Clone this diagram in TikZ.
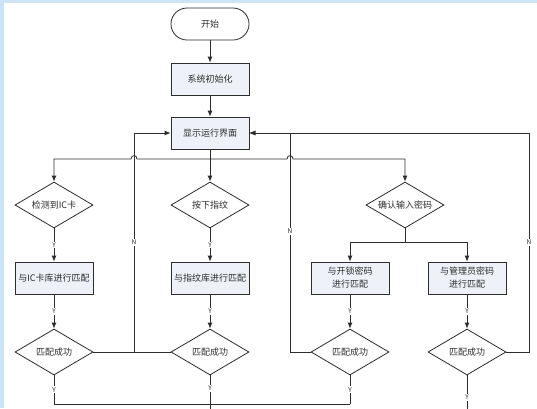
\documentclass[tikz,border=0pt]{standalone}
\usepackage{fontspec}
\setmainfont{Noto Sans CJK SC}
\usetikzlibrary{shapes.geometric,arrows.meta}
\definecolor{linecol}{RGB}{45,45,45}
\definecolor{boxfill}{RGB}{238,241,247}
\definecolor{edgeblue}{RGB}{205,228,246}
\tikzset{>={Latex[length=6pt,width=5pt]}}
\tikzset{
  box/.style={draw=linecol,fill=boxfill,minimum width=78pt,minimum height=32pt,
              inner sep=1pt,align=center,font=\fontsize{9}{13}\selectfont},
  term/.style={box,fill=white,rounded corners=16pt},
  choice/.style={diamond,aspect=1.7,draw=linecol,fill=white,minimum width=78pt,
                 minimum height=46pt,inner sep=0pt,font=\fontsize{9}{11}\selectfont},
  yn/.style={fill=white,inner sep=1pt,font=\fontsize{6.5}{7}\selectfont}
}

\begin{document}
\begin{tikzpicture}[x=1pt,y=-1pt,line width=0.8pt,color=linecol]
  % background
  \fill[white] (0,0) rectangle (537,408);
  \fill[edgeblue] (0,0) rectangle (537,2.5);
  \fill[edgeblue] (0,0) rectangle (4,408);
  \useasboundingbox (0,0) rectangle (537,408);
  % nodes
  \node[term] (start) at (210,24) {开始};
  \node[box] (init) at (210,79) {系统初始化};
  \node[box] (disp) at (210,133) {显示运行界面};
  \node[choice] (ic) at (54,205) {检测到IC卡};
  \node[choice] (fp) at (210,205) {按下指纹};
  \node[choice] (pw) at (405,205) {确认输入密码};
  \node[box] (icm) at (54,278) {与IC卡库进行匹配};
  \node[box] (fpm) at (210,278) {与指纹库进行匹配};
  \node[box] (pwm) at (350,278) {与开锁密码\\进行匹配};
  \node[box] (adm) at (467,278) {与管理员密码\\进行匹配};
  \node[choice] (icok) at (54,352) {匹配成功};
  \node[choice] (fpok) at (210,352) {匹配成功};
  \node[choice] (pwok) at (350,352) {匹配成功};
  \node[choice] (adok) at (467,352) {匹配成功};
  % helper points
  \coordinate (fork) at (210,159);
  \coordinate (pwfork) at (405,242);
  \coordinate (nleft) at (134,133);
  \coordinate (nmid) at (290,133);
  \coordinate (nright) at (529,133);
  \coordinate (join) at (210,404);
  \coordinate (fpend) at (210,412);
  \coordinate (adend) at (467,412);
  % main line
  \draw[->] (start) -- (init);
  \draw[->] (init) -- (disp);
  \draw (disp) -- (fork);
  \draw[->] (fork) -- (137,159) .. controls (137,154.5) and (131,154.5) .. (131,159) -| (ic);
  \draw[->] (fork) -- (fp);
  \draw[->] (fork) -- (287,159) .. controls (287,154.5) and (293,154.5) .. (293,159) -| (pw);
  \draw (pw) -- (pwfork);
  \draw[->] (pwfork) -| (pwm);
  \draw[->] (pwfork) -| (adm);
  % matching
  \draw[->] (ic) -- node[yn]{Y} (icm);
  \draw[->] (fp) -- node[yn]{Y} (fpm);
  \draw[->] (icm) -- node[yn]{Y} (icok);
  \draw[->] (fpm) -- node[yn]{Y} (fpok);
  \draw[->] (pwm) -- node[yn]{Y} (pwok);
  \draw[->] (adm) -- node[yn]{Y} (adok);
  % failed matches
  \draw (icok) -- (fpok);
  \draw[->] (nleft |- icok) -- node[yn]{N} (nleft) -- (disp);
  \draw[->] (pwok.west) -- (nmid |- pwok) -- node[yn,pos=0.55]{N} (nmid) -- (disp);
  \draw[->] (adok.east) -- (nright |- adok) -- node[yn]{N} (nright) -- (disp);
  % successful matches
  \draw (icok) -- node[yn]{Y} (icok |- join) -- (pwok |- join);
  \draw (pwok) -- node[yn]{Y} (pwok |- join);
  \draw (fpok) -- node[yn,pos=0.35]{Y} (fpend);
  \draw (adok) -- node[yn,pos=0.6]{Y} (adend);
\end{tikzpicture}
\end{document}
